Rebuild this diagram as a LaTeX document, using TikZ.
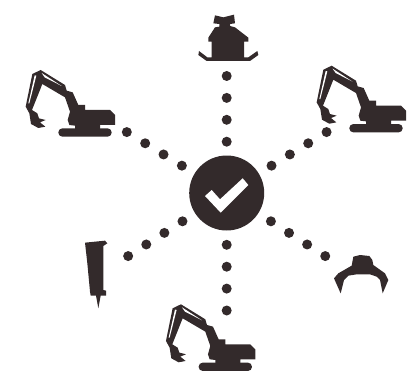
\documentclass[tikz,border=0pt]{standalone}
\usepackage{tikz}
\definecolor{ink}{HTML}{332A2B}
\newcommand{\excavator}[2]{%
  \begin{scope}[shift={(#1,#2)},scale=1/3]
    % track
    \fill[ink,rounded corners=4pt] (145,205) rectangle (305,230);
    % house, boom, stick, bucket
    \fill[ink] (92,30) -- (165,75) -- (170,92) -- (188,97) -- (205,135) -- (225,135) -- (225,150)
      -- (300,150) -- (315,165) -- (315,195) -- (270,195) -- (270,208) -- (195,208) -- (195,197)
      -- (178,195) -- (173,180) -- (180,155) -- (165,112) -- (97,72) -- (80,115) -- (66,150)
      -- (82,160) -- (87,175) -- (107,180) -- (90,187) -- (106,200) -- (85,204) -- (63,192)
      -- (58,160) -- (47,140) -- (67,42) -- cycle;
    % slits
    \fill[white] (95,39) -- (155,78) -- (104,52) -- cycle;
    \fill[white] (74,46) -- (79,47) -- (58,130) -- (55,130) -- cycle;
  \end{scope}}
\begin{document}
\begin{tikzpicture}[x=1pt,y=-1pt,
  hub/.style={circle,fill=ink,minimum size=75pt,inner sep=0pt,outer sep=0pt},
  dotline/.style={draw=ink,line width=10pt,line cap=round,dash pattern=on 0pt off #1,shorten >=-1pt}]
  \useasboundingbox (0,0) rectangle (417,377);

  \node[hub] (centre) at (226.7,193) {};
  \coordinate (house) at (226.7,76);
  \coordinate (left) at (126.7,132);
  \coordinate (right) at (326.7,132);
  \coordinate (breaker) at (126.7,257);
  \coordinate (grab) at (326.7,257);
  \coordinate (low) at (226.7,312);

  % dotted spokes
  \draw[dotline=21.9pt,shorten <=13.8pt] (centre) -- (house);
  \draw[dotline=21.9pt,shorten <=14.3pt] (centre) -- (low);
  \foreach \t in {left,right,breaker,grab}{
    \draw[dotline=21.5pt,shorten <=15pt] (centre) -- (\t);
  }

  % check mark
  \fill[white] (205,196) -- (211.7,190) -- (220,199.3) -- (242.7,178.3) -- (248.3,185) -- (220.7,212.7) -- cycle;

  % machines
  \excavator{10}{60}
  \excavator{301}{55.7}
  \excavator{150.3}{294.3}

  % cab on crawler
  \begin{scope}[shift={(180,0)},scale=1/3]
    \fill[ink] (57,153) -- (82,172) -- (95,172) -- (95,125) -- (85,125) -- (85,113) -- (105,82) -- (118,80)
      -- (118,72) -- (100,70) -- (105,46) -- (130,52) -- (162,44) -- (165,70) -- (150,72) -- (150,78)
      -- (165,82) -- (205,113) -- (205,125) -- (192,125) -- (192,172) -- (205,172) -- (232,153) -- (235,165)
      -- (210,183) -- (80,183) -- (55,165) -- cycle;
  \end{scope}

  % breaker
  \begin{scope}[shift={(70,230)},scale=1/3]
    \fill[ink] (45,38) -- (105,32) -- (112,40) -- (100,48) -- (100,180) -- (108,182) -- (108,197) -- (92,197)
      -- (85,235) -- (78,197) -- (62,197) -- (60,185) -- (52,100) -- cycle;
  \end{scope}

  % grab
  \begin{scope}[shift={(320,245)},scale=1/3]
    \fill[ink] (100,35) -- (120,30) -- (148,33) -- (157,45) -- (160,60) -- (195,85) -- (205,105) -- (188,145)
      -- (180,105) -- (170,95) -- (150,88) -- (110,88) -- (85,92) -- (72,105) -- (62,145) -- (42,100)
      -- (55,85) -- (95,62) -- cycle;
  \end{scope}
\end{tikzpicture}
\end{document}
